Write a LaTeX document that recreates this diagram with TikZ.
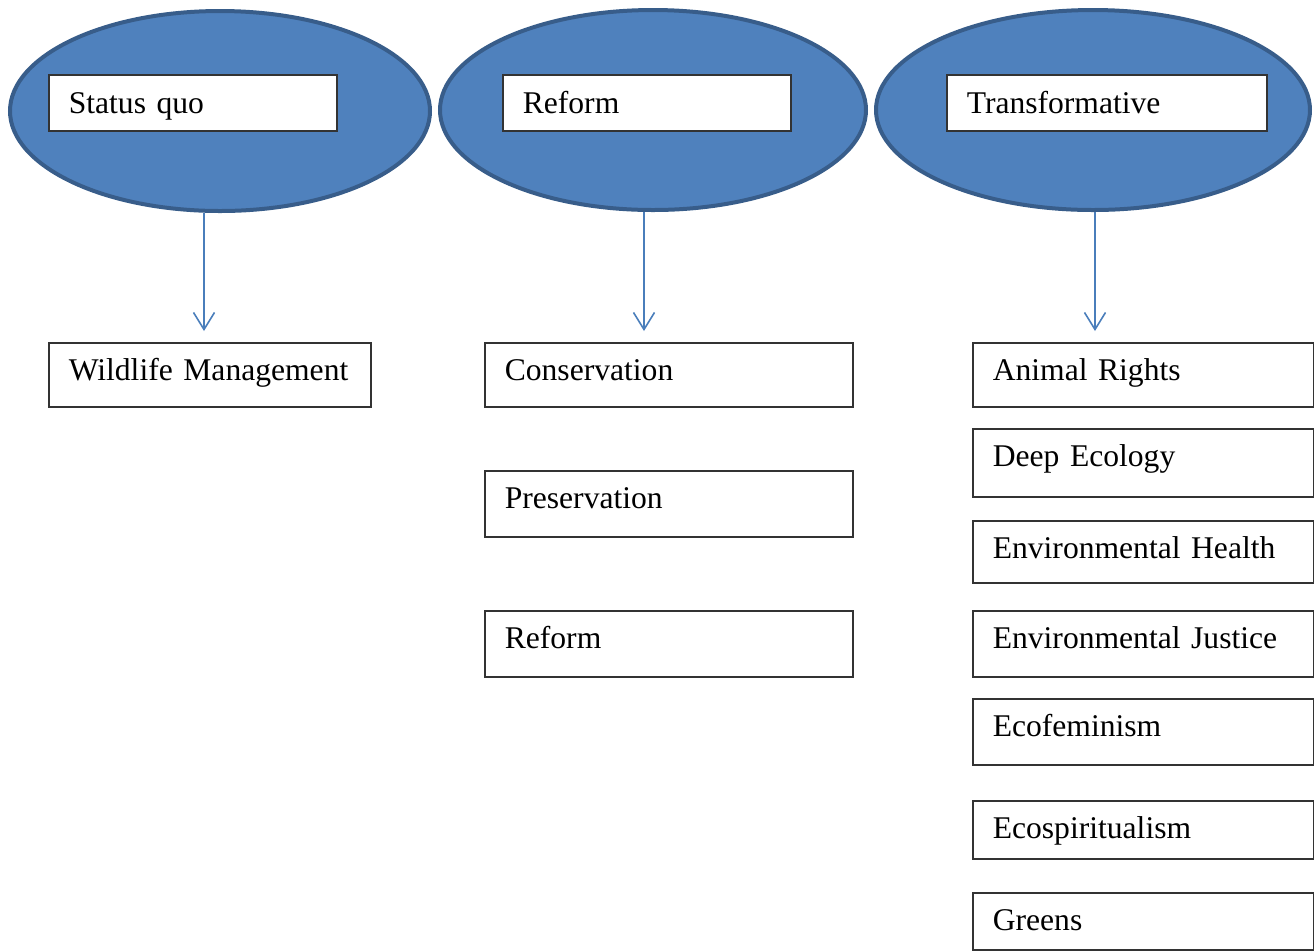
\documentclass[tikz,border=0pt]{standalone}
\usepackage{fontspec}
\setmainfont{Liberation Serif}
\usetikzlibrary{shapes.geometric,arrows.meta}
\definecolor{ovalfill}{HTML}{4F81BD}
\definecolor{ovaledge}{HTML}{385D8A}
\definecolor{arrowblue}{HTML}{4A7EBB}
\tikzset{
  x=0.5pt, y=-0.5pt,
  oval/.style={ellipse, fill=ovalfill, draw=ovaledge, line width=2pt, inner sep=0pt},
  label box/.style={draw=black!80, fill=white, line width=0.8pt, rectangle, anchor=north west,
    inner xsep=10pt, inner ysep=0pt, align=left, text height=19pt,
    font=\fontsize{15.8}{19}\selectfont},
  down arrow/.style={draw=arrowblue, line width=0.8pt, -{Straight Barb[length=8.5pt, width=10.5pt, line width=0.8pt]}}
}
\begin{document}
\begin{tikzpicture}
\useasboundingbox (0,0) rectangle (1314,950);

% the three approach ovals
\node[oval, minimum width=210pt, minimum height=100pt] (e1) at (220,111) {};
\node[oval, minimum width=213pt, minimum height=100pt] (e2) at (653,110) {};
\node[oval, minimum width=217pt, minimum height=100pt] (e3) at (1093,110) {};

% their titles
\node[label box, text width=124pt, text height=19.5pt, text depth=8.5pt] (t1) at (48,74) {\mbox{Status quo}};
\node[label box, text width=124pt, text height=19.5pt, text depth=8.5pt] (t2) at (502,74) {\mbox{Reform}};
\node[label box, text width=140pt, text height=19.5pt, text depth=8.5pt] (t3) at (946,74) {\mbox{Transformative}};

% status quo column
\node[label box, text width=141pt, text depth=13pt] (wm) at (48,342) {\mbox{Wildlife Management}};

% reform column
\node[label box, text width=164pt, text depth=13pt] (cons) at (484,342) {\mbox{Conservation}};
\node[label box, text width=164pt, text depth=14pt] (pres) at (484,470) {\mbox{Preservation}};
\node[label box, text width=164pt, text depth=14pt] (refm) at (484,610) {\mbox{Reform}};

% transformative column
\node[label box, text width=150.5pt, text depth=13pt] (ar) at (972,342) {\mbox{Animal Rights}};
\node[label box, text width=150.5pt, text depth=15pt] (de) at (972,428) {\mbox{Deep Ecology}};
\node[label box, text width=150.5pt, text depth=12pt] (eh) at (972,520) {\mbox{Environmental Health}};
\node[label box, text width=150.5pt, text depth=14pt] (ej) at (972,610) {\mbox{Environmental Justice}};
\node[label box, text width=150.5pt, text depth=14pt] (ef) at (972,698) {\mbox{Ecofeminism}};
\node[label box, text width=150.5pt, text depth=10pt] (es) at (972,800) {\mbox{Ecospiritualism}};
\node[label box, text width=150.5pt, text depth=9.5pt] (gr) at (972,892) {\mbox{Greens}};

% arrow ends
\coordinate (a1) at (204,331);
\coordinate (a2) at (644,331);
\coordinate (a3) at (1095,331);

\draw[down arrow] (a1 |- e1.south) -- (a1);
\draw[down arrow] (a2 |- e2.south) -- (a2);
\draw[down arrow] (a3 |- e3.south) -- (a3);
\end{tikzpicture}
\end{document}
